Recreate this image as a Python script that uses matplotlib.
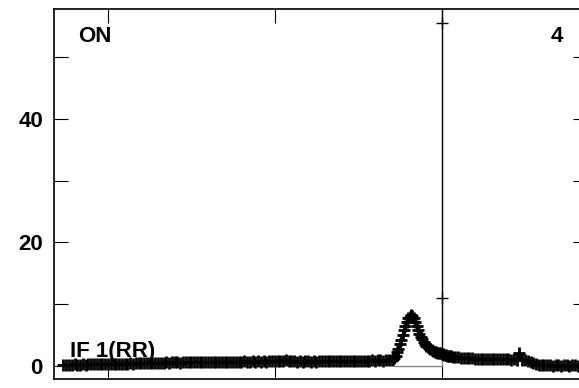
import matplotlib.pyplot as plt
from matplotlib.ticker import MultipleLocator, NullFormatter

# canal -> intensidade
# linha de base antes do pico, canais 0..117
base_antes = [
    0.2, 0.2, 0.15, 0.2, 0.25, 0.2, 0.2, 0.25, 0.2, 0.25,
    0.25, 0.3, 0.25, 0.3, 0.3, 0.3, 0.35, 0.3, 0.35, 0.35,
    0.4, 0.35, 0.4, 0.4, 0.45, 0.4, 0.45, 0.45, 0.5, 0.45,
    0.5, 0.5, 0.5, 0.55, 0.5, 0.55, 0.55, 0.6, 0.55, 0.6,
    0.6, 0.6, 0.55, 0.6, 0.6, 0.65, 0.6, 0.6, 0.65, 0.6,
    0.65, 0.6, 0.65, 0.65, 0.6, 0.65, 0.7, 0.65, 0.7, 0.65,
    0.7, 0.65, 0.7, 0.7, 0.7, 0.75, 0.7, 0.7, 0.75, 0.7,
    0.75, 0.7, 0.75, 0.7, 0.75, 0.8, 0.75, 0.8, 0.85, 0.8,
    0.9, 0.85, 0.8, 0.75, 0.7, 0.75, 0.7, 0.75, 0.75, 0.7,
    0.75, 0.7, 0.75, 0.8, 0.75, 0.75, 0.8, 0.75, 0.8, 0.8,
    0.8, 0.85, 0.8, 0.8, 0.85, 0.8, 0.85, 0.85, 0.8, 0.85,
    0.85, 0.9, 0.85, 0.9, 0.9, 0.85, 0.9, 0.95,
]
# pico, canais 118..140 de meio em meio
pico = [
    1.0, 1.1, 1.3, 1.7, 2.2, 2.8, 3.5, 4.2, 5.0, 5.8,
    6.5, 7.1, 7.7, 8.0, 8.2, 8.1, 7.8, 7.1, 6.4, 5.8,
    5.2, 4.7, 4.3, 3.9, 3.6, 3.3, 3.1, 2.9, 2.7, 2.55,
    2.4, 2.3, 2.2, 2.15, 2.1, 2.05, 2.0, 1.9, 1.8, 1.75,
    1.7, 1.65, 1.6, 1.55, 1.5,
]
# cauda, canais 141..188
base_depois = [
    1.45, 1.4, 1.35, 1.3, 1.3, 1.25, 1.25, 1.2, 1.2,
    1.2, 1.15, 1.15, 1.2, 1.15, 1.15, 1.1, 1.15, 1.1, 1.1,
    1.1, 1.05, 1.1, 1.05, 2.1, 1.05, 1.0, 0.85, 0.65, 0.5,
    0.35, 0.2, 0.15, 0.1, 0.1, 0.1, 0.05, 0.1, 0.1, 0.05,
    0.1, 0.1, 0.05, 0.1, 0.1, 0.05, 0.1, 0.1, 0.1,
]
canal = list(range(0, 118)) + [v / 2 for v in range(236, 281)] + list(range(141, 189))
intensidade = base_antes + pico + base_depois

# linha isolada no canal 136
raia_x = [136, 136, 136, 136]
raia_y = [80, 55.6, 11.0, 2.0]
fundo_x = [136, 136, 119]
fundo_y = [2.0, 0.0, 0.0]

x_ticks = [16, 76, 136]

W, H = 579, 388
fig = plt.figure(figsize=(W / 100, H / 100), dpi=100)
ax = fig.add_axes([54 / W, 9 / H, (587 - 54) / W, (379 - 9) / H])

ax.plot(fundo_x, fundo_y, color='#888888', lw=1)
ax.plot(raia_x, raia_y, color='black', lw=1, marker='+', ms=9, mew=1)
ax.plot(canal, intensidade, color='black', lw=1.5, marker='+', ms=9, mew=2.0)

ax.set_xticks(x_ticks)
ax.set_xlim(-3.4, 188.3)
ax.set_ylim(-2.1, 57.8)
ax.xaxis.set_major_formatter(NullFormatter())
ax.yaxis.set_major_locator(MultipleLocator(20))
ax.yaxis.set_minor_locator(MultipleLocator(10))
ax.tick_params(axis='both', which='both', direction='in', length=10, width=0.8,
               top=True, right=True)
ax.tick_params(axis='y', labelsize=16, pad=8)
for lbl in ax.get_yticklabels():
    lbl.set_fontweight('bold')
    lbl.set_family('Liberation Sans')
for s in ax.spines.values():
    s.set_linewidth(1.2)

fonte = dict(family='Liberation Sans', fontweight='bold', fontsize=16)
fig.text(78 / W, 1 - 42 / H, 'ON', ha='left', va='baseline', **fonte)
fig.text(563 / W, 1 - 42 / H, '4', ha='right', va='baseline', **fonte)
fig.text(70 / W, 1 - 357 / H, 'IF 1(RR)', ha='left', va='baseline', **fonte)

fig.savefig('out.png', dpi=100)
